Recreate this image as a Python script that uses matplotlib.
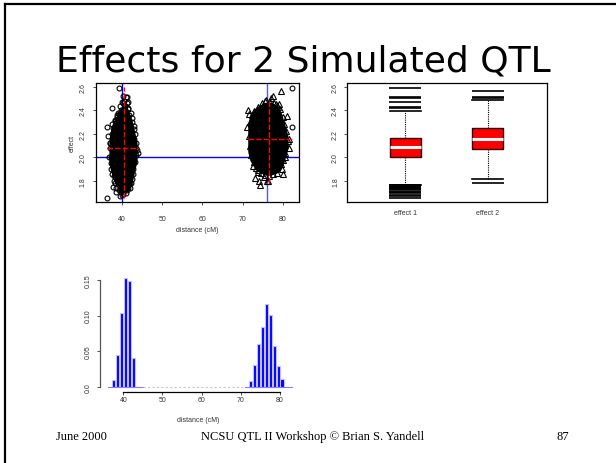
import matplotlib
matplotlib.use('Agg')
import matplotlib.pyplot as plt
from matplotlib.lines import Line2D
import numpy as np

W, H = 616, 464

# ---- scatter: dense cores (column ranges) + edge points
core1_x = [37.0, 37.5, 38.0, 38.5, 39.0, 39.5, 40.0, 40.5, 41.0, 41.5, 42.0, 42.5, 43.0, 43.5]
core1_lo = [1.95, 1.88, 1.82, 1.78, 1.75, 1.72, 1.70, 1.70, 1.71, 1.73, 1.76, 1.82, 1.90, 1.98]
core1_hi = [2.15, 2.25, 2.30, 2.33, 2.36, 2.40, 2.42, 2.45, 2.43, 2.38, 2.34, 2.28, 2.20, 2.12]
pts1_x = [39.3, 37.4, 36.3, 44.1, 36.3, 41.0, 41.3, 41.6, 36.6, 37.4, 38.5, 39.5, 41.3, 37.8,
          37.3, 37.0, 37.6, 38.0, 36.8, 43.3, 43.0, 43.5, 42.8, 42.5, 43.2, 42.6, 42.2, 41.6,
          40.6, 40.2, 39.5, 41.2, 40.3, 38.2, 39.0, 40.0, 42.0, 43.8, 36.9, 38.7,
          37.2, 37.5, 37.8, 38.2, 38.6, 37.9, 37.3, 37.1, 38.3, 38.8,
          43.4, 43.1, 42.9, 42.7, 42.3, 41.9, 43.6, 42.4, 41.8,
          39.8, 39.2, 40.8, 41.4, 40.0, 39.3, 40.2, 40.9, 41.6, 39.8]
pts1_y = [2.59, 2.42, 1.66, 2.04, 2.26, 2.51, 2.51, 2.47, 2.18, 2.28, 1.71, 1.675, 1.72, 1.745,
          1.95, 2.08, 1.86, 1.80, 2.00, 2.20, 2.27, 2.12, 1.90, 1.82, 1.96, 2.33, 2.38, 2.42,
          2.48, 2.46, 2.44, 2.46, 2.52, 2.32, 2.38, 1.68, 1.78, 2.06, 2.12, 2.36,
          2.00, 2.20, 2.25, 1.78, 1.74, 1.84, 1.90, 2.12, 2.31, 2.34,
          2.02, 2.16, 2.24, 1.86, 1.78, 1.74, 2.08, 2.30, 2.36,
          2.40, 2.37, 2.44, 2.41, 2.47, 1.72, 1.69, 1.70, 1.74, 1.71]

core2_x = [71.5, 72.0, 72.5, 73.0, 73.5, 74.0, 75.0, 76.0, 77.0, 78.0, 79.0, 79.5, 80.0, 80.5, 81.0]
core2_lo = [2.05, 1.98, 1.95, 1.92, 1.90, 1.89, 1.87, 1.86, 1.86, 1.87, 1.89, 1.92, 1.96, 2.02, 2.08]
core2_hi = [2.28, 2.35, 2.38, 2.40, 2.42, 2.43, 2.45, 2.46, 2.46, 2.44, 2.40, 2.36, 2.30, 2.24, 2.18]
pts2_x = [79.6, 71.4, 71.6, 73.0, 74.1, 74.4, 80.1, 77.8, 78.7, 71.0, 72.3, 80.5, 81.5,
          76.4, 75.2, 78.9, 81.0, 72.5, 73.8, 79.8, 77.0, 75.8, 81.6, 71.8, 80.6,
          71.8, 72.2, 72.0, 72.7, 71.5, 73.2, 72.9,
          80.8, 80.3, 79.9, 80.6, 79.5, 81.2, 80.1,
          73.8, 74.8, 75.6, 76.8, 78.2, 79.2, 77.4,
          74.6, 75.6, 76.6, 77.6, 78.5, 73.9, 76.0]
pts2_y = [2.56, 2.40, 2.37, 1.825, 1.80, 1.77, 1.86, 2.46, 2.43, 2.26, 2.25, 2.12, 2.08,
          1.80, 1.83, 2.45, 2.35, 1.93, 1.88, 1.90, 2.50, 2.49, 2.16, 2.10, 2.00,
          2.30, 2.36, 2.02, 1.96, 2.18, 1.91, 2.39,
          2.22, 2.28, 2.34, 2.04, 1.94, 2.14, 1.98,
          2.43, 2.46, 2.48, 2.47, 2.45, 2.41, 2.52,
          1.87, 1.85, 1.84, 1.86, 1.87, 1.89, 1.80]
odd_x = [82.2, 82.2]
odd_y = [2.59, 2.26]

# crosses (mean and range) and true QTL
cross1 = dict(x=40.57, y=2.08, x_lo=36.3, x_hi=44.3, y_lo=1.66, y_hi=2.595)
cross2 = dict(x=76.44, y=2.154, x_lo=71.2, x_hi=82.4, y_lo=1.78, y_hi=2.49)
qtl_pos = [40.0, 76.0]
qtl_effect = 2.0

# ---- boxplot stats
box_labels = ['effect 1', 'effect 2']
box_q1 = [2.00, 2.068]
box_med = [2.09, 2.153]
box_q3 = [2.164, 2.247]
box_whislo = [1.77, 1.814]
box_whishi = [2.395, 2.49]
fliers1 = [2.59, 2.51, 2.50, 2.47, 2.43, 2.42, 1.766, 1.762, 1.757, 1.752, 1.748, 1.743,
           1.738, 1.73, 1.72, 1.71, 1.705, 1.695, 1.685, 1.675, 1.66]
fliers2 = [2.563, 2.51, 2.50, 1.786]

# ---- histogram of positions
hist1_x = [37.5, 38.5, 39.5, 40.5, 41.5, 42.5]
hist1_h = [0.0098, 0.0445, 0.103, 0.153, 0.149, 0.040]
hist2_x = [72.5, 73.5, 74.5, 75.5, 76.5, 77.5, 78.5, 79.5, 80.5]
hist2_h = [0.008, 0.030, 0.060, 0.084, 0.116, 0.101, 0.057, 0.029, 0.011]

plt.rcParams['font.family'] = ['Liberation Sans', 'DejaVu Sans']
tick_col = '#333333'
small = 5

fig = plt.figure(figsize=(W / 100, H / 100), dpi=100)


def box(l, t, r, b):
    return [l / W, 1 - b / H, (r - l) / W, (b - t) / H]


# slide frame (top and left)
fig.add_artist(Line2D([5 / W, 1], [1 - 5 / H, 1 - 5 / H], color='black', lw=1.6))
fig.add_artist(Line2D([5 / W, 5 / W], [0, 1 - 5 / H], color='black', lw=1.6))

fig.text(303 / W, 1 - 72 / H, 'Effects for 2 Simulated QTL', ha='center', va='baseline',
         fontsize=26, family='DejaVu Sans')

foot = dict(family='Liberation Serif', fontsize=9, va='center')
fig.text(81 / W, 1 - 437 / H, 'June 2000', ha='center', **foot)
fig.text(313 / W, 1 - 437 / H, 'NCSU QTL II Workshop \u00a9 Brian S. Yandell', ha='center', **foot)
fig.text(563 / W, 1 - 437 / H, '87', ha='center', **foot)

# ---- scatter panel
ax1 = fig.add_axes(box(96, 84, 299, 203))
ax1.set_xlim(33.54, 83.98)
ax1.set_ylim(1.622, 2.631)
ax1.axvline(qtl_pos[0], color='#0000ff', lw=1.0, zorder=1)
ax1.axvline(qtl_pos[1], color='#5555ff', lw=1.0, zorder=1)
ax1.axhline(qtl_effect, color='#0000ff', lw=1.0, zorder=1)
ax1.fill_between(core1_x, core1_lo, core1_hi, color='black', lw=1.5, ec='black', zorder=2)
ax1.fill_between(core2_x, core2_lo, core2_hi, color='black', lw=1.5, ec='black', zorder=2)
mk = dict(mfc='none', mec='black', mew=0.8, zorder=3, ls='none')
ax1.plot(pts1_x, pts1_y, 'o', ms=3.5, **mk)
ax1.plot(pts2_x, pts2_y, '^', ms=3.7, **mk)
ax1.plot(odd_x, odd_y, 'o', ms=3.5, **mk)
for c in (cross1, cross2):
    ax1.plot([c['x'], c['x']], [c['y_lo'], c['y_hi']], color='red', lw=1.0,
             dashes=(4, 1.5), zorder=4)
    ax1.plot([c['x_lo'], c['x_hi']], [c['y'], c['y']], color='red', lw=1.0,
             dashes=(4, 1.5), zorder=4)
ax1.set_xticks([40, 50, 60, 70, 80])
ax1.set_yticks([1.8, 2.0, 2.2, 2.4, 2.6])
ax1.set_yticklabels(['1.8', '2.0', '2.2', '2.4', '2.6'], rotation=90, va='center')
ax1.tick_params(axis='x', length=2.2, width=0.6, pad=7.5, labelsize=small, colors=tick_col)
ax1.tick_params(axis='y', length=2.2, width=0.6, pad=4.5, labelsize=small, colors=tick_col)
ax1.set_xlabel('distance (cM)', fontsize=small, color=tick_col, labelpad=2.5)
ax1.set_ylabel('effect', fontsize=small, color=tick_col, labelpad=3)
for s in ax1.spines.values():
    s.set_linewidth(0.9)

# ---- boxplot panel
ax2 = fig.add_axes(box(347, 84, 547, 203))
stats = []
for i, lab in enumerate(box_labels):
    stats.append(dict(label=lab, q1=box_q1[i], med=box_med[i], q3=box_q3[i],
                      whislo=box_whislo[i], whishi=box_whishi[i],
                      fliers=[fliers1, fliers2][i]))
ax2.bxp(stats, positions=[1, 2], widths=0.38, capwidths=0.38, patch_artist=True,
        boxprops=dict(facecolor='red', edgecolor='#300000', lw=1.0),
        medianprops=dict(color='white', lw=2.2),
        whiskerprops=dict(color='black', lw=0.8, linestyle=(0, (1, 1))),
        capprops=dict(color='black', lw=1.2),
        flierprops=dict(marker='_', markersize=22.5, mec='black', mew=1.2))
ax2.set_xlim(0.29, 2.72)
ax2.set_ylim(1.622, 2.631)
ax2.set_yticks([1.8, 2.0, 2.2, 2.4, 2.6])
ax2.set_yticklabels(['1.8', '2.0', '2.2', '2.4', '2.6'], rotation=90, va='center')
ax2.tick_params(axis='x', length=0, pad=5, labelsize=small, colors=tick_col)
ax2.tick_params(axis='y', length=2.2, width=0.6, pad=3.5, labelsize=small, colors=tick_col)
for s in ax2.spines.values():
    s.set_linewidth(0.9)

# ---- histogram panel
ax3 = fig.add_axes(box(100, 273.9, 295.7, 393.3))
ax3.set_xlim(34.05, 84.0)
ax3.set_ylim(-0.0079, 0.16)
ax3.plot([36, 45], [0, 0], color='#8080ff', lw=0.8)
ax3.plot([71, 83], [0, 0], color='#8080ff', lw=0.8)
ax3.plot([45, 71], [0, 0], color='#c8c8c8', lw=0.8, dashes=(2, 2))
ax3.bar(hist1_x, hist1_h, width=0.78, color='#0000ff', edgecolor='#c0c0ff', lw=0.8)
ax3.bar(hist2_x, hist2_h, width=0.78, color='#0000ff', edgecolor='#c0c0ff', lw=0.8)
ax3.spines['top'].set_visible(False)
ax3.spines['right'].set_visible(False)
ax3.spines['left'].set_bounds(0, 0.15)
ax3.spines['bottom'].set_bounds(40, 80)
ax3.spines['left'].set_color('#555555')
ax3.spines['left'].set_linewidth(0.9)
ax3.spines['bottom'].set_linewidth(0.9)
ax3.set_xticks([40, 50, 60, 70, 80])
ax3.set_yticks([0.0, 0.05, 0.10, 0.15])
ax3.set_yticklabels(['0.0', '0.05', '0.10', '0.15'], rotation=90, va='center')
ax3.tick_params(axis='x', length=2, width=0.6, pad=0.8, labelsize=small, colors=tick_col)
ax3.tick_params(axis='y', length=2.2, width=0.6, pad=3.5, labelsize=small, colors=tick_col)
ax3.set_xlabel('distance (cM)', fontsize=small, color=tick_col, labelpad=9)

fig.savefig('out.png', dpi=100)
